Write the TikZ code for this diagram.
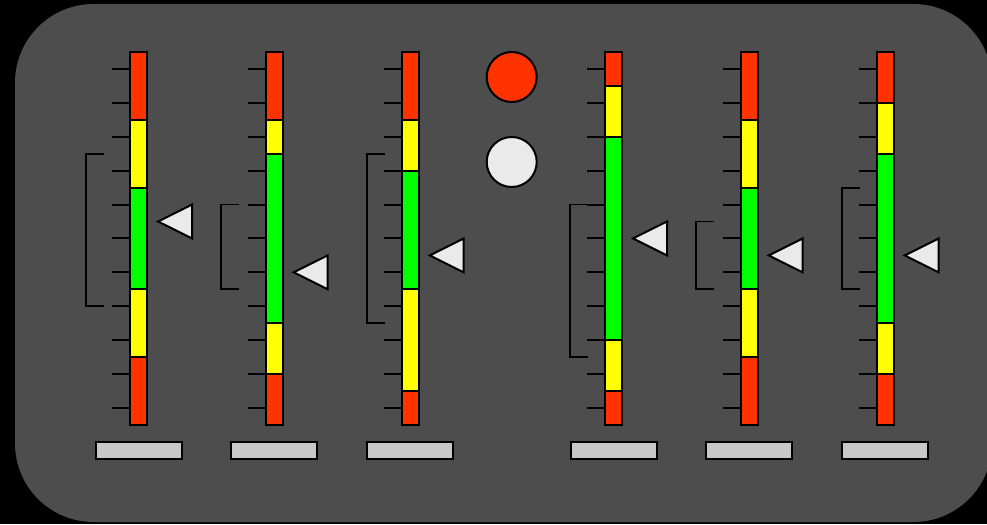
\documentclass[tikz,border=0pt]{standalone}
\definecolor{panel}{RGB}{77,77,77}
\definecolor{gred}{RGB}{255,51,0}
\definecolor{gyel}{RGB}{255,255,0}
\definecolor{ggrn}{RGB}{0,255,0}
\definecolor{ptr}{RGB}{234,234,234}
\definecolor{lab}{RGB}{200,200,200}
\tikzset{
  seg/.style={draw=black, line width=1.5pt},
  tick/.style={draw=black, line width=1.5pt},
  brk/.style={draw=black, line width=1.4pt},
  pointer/.style={draw=black, fill=ptr, line width=1.5pt, line join=miter},
  labelbar/.style={draw=black, fill=lab, line width=1.5pt, rectangle, minimum width=64.5pt, minimum height=12.75pt, inner sep=0pt},
  lamp/.style={draw=black, line width=1.5pt, circle, minimum size=37.5pt, inner sep=0pt}
}
% #1 bar left x, #2-#5 boundaries, #6 bracket offset, #7 bracket top, #8 bracket bottom, #9 pointer
\newcommand\mygauge[9]{%
  \begin{scope}[shift={(#1,52)}, yscale=33.9]
    \filldraw[seg, fill=gred] (0,0) rectangle (17,#2);
    \filldraw[seg, fill=gyel] (0,#2) rectangle (17,#3);
    \filldraw[seg, fill=ggrn] (0,#3) rectangle (17,#4);
    \filldraw[seg, fill=gyel] (0,#4) rectangle (17,#5);
    \filldraw[seg, fill=gred] (0,#5) rectangle (17,11);
    \foreach \k in {0.5,1.5,...,10.5} { \draw[tick] (-18,\k) -- (0,\k); }
    \draw[brk] (-#6+18,#7) -- (-#6,#7) -- (-#6,#8) -- (-#6+18,#8);
    \filldraw[pointer] (28,#9) -- (62,#9-0.5) -- (62,#9+0.5) -- cycle;
  \end{scope}
}
\begin{document}
\begin{tikzpicture}[x=0.75pt, y=-0.75pt]
  \useasboundingbox (0,0) rectangle (987,524);
  \clip (0,0) rectangle (987,524);
  \fill[black] (0,0) rectangle (987,524);
  \fill[panel, rounded corners=59pt] (15,4) rectangle (992,522);

  \mygauge{130}{2}{4}{7}{9}{44}{3}{7.5}{5}
  \mygauge{265.7}{2}{3}{8}{9.5}{44.5}{4.5}{7}{6.5}
  \mygauge{401.7}{2}{3.5}{7}{10}{35}{3}{8}{6}
  \mygauge{605}{1}{2.5}{8.5}{10}{35}{4.5}{9}{5.5}
  \mygauge{740.7}{2}{4}{7}{9}{45}{5}{7}{6}
  \mygauge{876.7}{1.5}{3}{8}{9.5}{35}{4}{7}{6}

  \node[labelbar] (lab1) at (138.5,450.5) {};
  \node[labelbar] (lab2) at (274.2,450.5) {};
  \node[labelbar] (lab3) at (410.2,450.5) {};
  \node[labelbar] (lab4) at (613.5,450.5) {};
  \node[labelbar] (lab5) at (749.2,450.5) {};
  \node[labelbar] (lab6) at (885.2,450.5) {};

  \node[lamp, fill=gred] (lampred) at (511.7,77) {};
  \node[lamp, fill=ptr] (lampgrey) at (511.7,162) {};
\end{tikzpicture}
\end{document}
